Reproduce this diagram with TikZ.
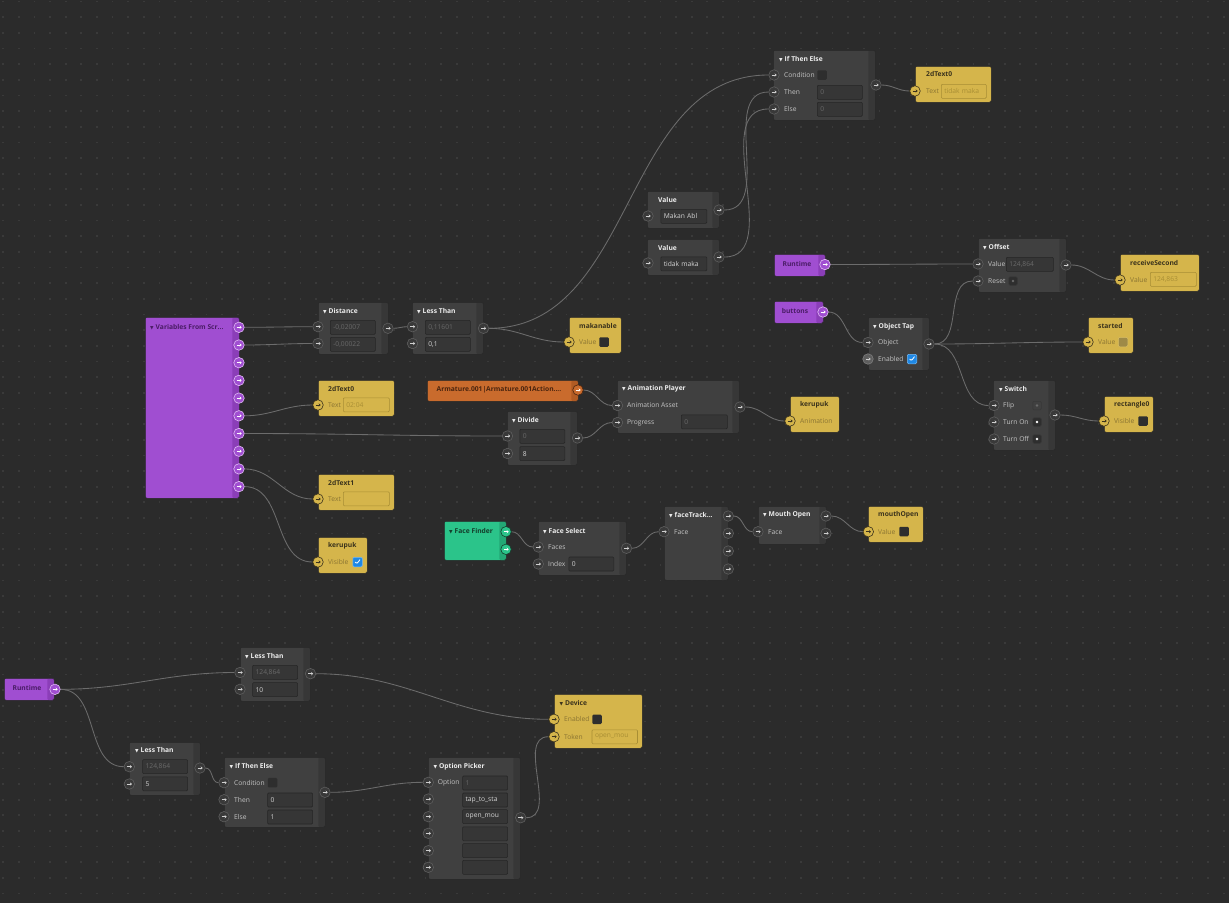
\documentclass[tikz,border=0pt]{standalone}
\usepackage{fontspec}
\setmainfont{Open Sans}
\newfontfamily\glyphfont{DejaVu Sans}
\usepackage{tikz}
\usetikzlibrary{arrows.meta}
\definecolor{canvas}{HTML}{2B2B2B}
\definecolor{gridDot}{HTML}{3A3A3A}
\definecolor{nodeGray}{HTML}{404040}
\definecolor{nodeStrip}{HTML}{373737}
\definecolor{nodeEdge}{HTML}{262626}
\definecolor{fieldFill}{HTML}{363636}
\definecolor{fieldEdge}{HTML}{262626}
\definecolor{wireGray}{HTML}{6C6C6C}
\definecolor{portFill}{HTML}{393939}
\definecolor{portEdge}{HTML}{5E5E5E}
\definecolor{portArrow}{HTML}{D0D0D0}
\definecolor{titleWhite}{HTML}{EDEDED}
\definecolor{lblGray}{HTML}{C4C4C4}
\definecolor{valLight}{HTML}{D4D4D4}
\definecolor{valDim}{HTML}{6A6A6A}
\definecolor{boxDark}{HTML}{2E2E2E}
\definecolor{tickBlue}{HTML}{1E88E5}
\definecolor{nodeYellow}{HTML}{D5B54B}
\definecolor{yellowDeep}{HTML}{A88E34}
\definecolor{yellowMuted}{HTML}{8A7432}
\definecolor{yellowInk}{HTML}{3A321C}
\definecolor{nodePurple}{HTML}{A04ED1}
\definecolor{purpleStrip}{HTML}{8B3EB8}
\definecolor{purpleEdge}{HTML}{E2BCF6}
\definecolor{purpleInk}{HTML}{4A1C66}
\definecolor{nodeOrange}{HTML}{C96B2D}
\definecolor{orangeStrip}{HTML}{B15B23}
\definecolor{orangeInk}{HTML}{4A240E}
\definecolor{nodeGreen}{HTML}{2BC48A}
\definecolor{greenStrip}{HTML}{23A875}
\definecolor{greenInk}{HTML}{143D2B}
\pgfdeclarelayer{grid}
\pgfdeclarelayer{wires}
\pgfsetlayers{grid,wires,main}
\newcommand{\lblfont}{\fontsize{6.7}{7.5}\selectfont}
\newcommand{\ttlfont}{\fontsize{6.7}{7.5}\selectfont\bfseries}
\newcommand{\tritip}{{\glyphfont\fontsize{4.6}{5}\selectfont ▼}\hspace{2pt}}
\tikzset{
  arrowcol/.store in=\arrowCol, arrowcol=portArrow,
  stripcol/.store in=\stripCol, stripcol=nodeStrip,
  dotcol/.store in=\dotCol, dotcol=white,
  gridrow/.style={draw=gridDot, line width=1.7pt, dash pattern=on 1.7pt off 13.95pt},
  wire/.style={draw=wireGray, line width=0.85pt},
  darkbox/.style={rectangle, rounded corners=2pt, anchor=north west, inner sep=0pt, fill=nodeGray, draw=nodeEdge, line width=0.5pt, stripcol=nodeStrip,
    path picture={\fill[\stripCol] ([xshift=-7pt]path picture bounding box.north east) rectangle (path picture bounding box.south east);}},
  purplebox/.style={darkbox, fill=nodePurple, stripcol=purpleStrip},
  orangebox/.style={darkbox, fill=nodeOrange, stripcol=orangeStrip},
  greenbox/.style={darkbox, fill=nodeGreen, stripcol=greenStrip},
  ybox/.style={rectangle, rounded corners=2pt, anchor=north west, inner sep=0pt, fill=nodeYellow, draw=nodeEdge, line width=0.5pt},
  title/.style={anchor=west, inner sep=0pt, font=\ttlfont, text=titleWhite},
  ytitle/.style={title, text=yellowInk},
  ptitle/.style={inner sep=0pt, font=\ttlfont, text=purpleInk},
  lbl/.style={anchor=west, inner sep=0pt, font=\lblfont, text=lblGray},
  ylbl/.style={lbl, text=yellowMuted},
  field/.style={rectangle, anchor=north west, rounded corners=1pt, fill=fieldFill, draw=fieldEdge, line width=0.6pt, minimum height=14pt, text width=39pt, inner xsep=3pt, inner ysep=0pt, align=left, font=\lblfont, text=valLight},
  dimfield/.style={field, text=valDim},
  yfield/.style={field, fill=nodeYellow, draw=yellowDeep, text=yellowDeep},
  chk/.style={rectangle, rounded corners=1.2pt, minimum size=9.5pt, inner sep=0pt, fill=boxDark},
  tick/.style={chk, fill=tickBlue, draw=tickBlue!60!white, line width=0.5pt,
    path picture={\draw[white, line width=0.8pt] ([shift={(-2.4pt,0.1pt)}]path picture bounding box.center) -- ([shift={(-0.7pt,-1.8pt)}]path picture bounding box.center) -- ([shift={(2.5pt,2.4pt)}]path picture bounding box.center);}},
  dotbox/.style={chk, minimum size=8.5pt, draw=nodeStrip, line width=0.5pt,
    path picture={\fill[\dotCol] (path picture bounding box.center) circle (1.3pt);}},
  port/.style={circle, minimum size=10.5pt, inner sep=0pt, line width=0.6pt, fill=portFill, draw=portEdge, arrowcol=portArrow,
    path picture={\draw[draw=\arrowCol, line width=0.6pt, -{Stealth[length=1.9pt,width=3.2pt]}] ([xshift=-2.4pt]path picture bounding box.center) -- ([xshift=2.6pt]path picture bounding box.center);}},
  liteport/.style={port, fill=portEdge, draw=portEdge!80!white},
  yport/.style={port, fill=nodeYellow, draw=yellowInk, arrowcol=yellowInk},
  pport/.style={port, fill=nodePurple, draw=purpleEdge, arrowcol=white},
  oport/.style={port, fill=nodeOrange, draw=orangeInk, arrowcol=white},
  gport/.style={port, fill=nodeGreen, draw=greenInk, arrowcol=white}
}
\begin{document}
\begin{tikzpicture}[x=1pt,y=-1pt]
  \useasboundingbox (0,0) rectangle (1229,903);
  \begin{pgfonlayer}{grid}
    \fill[canvas] (0,0) rectangle (1229,903);
    \foreach \row in {0,...,57}
      \draw[gridrow] (2.2,{1.5+15.65*\row}) -- (1229,{1.5+15.65*\row});
  \end{pgfonlayer}

  \node[darkbox, minimum width=102, minimum height=70] (iteTop) at (773,50) {};
  \node[title] (iteTop-h) at (779,59) {\tritip If Then Else};
  \node[lbl] (iteTop-lc) at (784,75) {Condition};
  \node[lbl] (iteTop-lt) at (784,92) {Then};
  \node[lbl] (iteTop-le) at (784,109) {Else};
  \node[chk] (iteTop-cb) at (822,75) {};
  \node[dimfield] (iteTop-ft) at (817,85) {0};
  \node[dimfield] (iteTop-fe) at (817,102) {0};
  \node[port] (iteTop-c) at (774,75) {};
  \node[port] (iteTop-t) at (774,92) {};
  \node[port] (iteTop-e) at (774,109) {};
  \node[port] (iteTop-o) at (876,85) {};

  \node[ybox, minimum width=76, minimum height=36] (textTop) at (915,66) {};
  \node[ytitle] (textTop-h) at (926,74) {2dText0};
  \node[ylbl] (textTop-l) at (926,91) {Text};
  \node[yfield] (textTop-f) at (941,84) {tidak maka};
  \node[yport] (textTop-t) at (915,91) {};

  \node[darkbox, minimum width=72, minimum height=37] (valMakan) at (647,191) {};
  \node[title] (valMakan-h) at (658,200) {Value};
  \node[field, text width=40pt] (valMakan-f) at (660.5,209) {Makan Abl};
  \node[port] (valMakan-i) at (648,216) {};
  \node[port] (valMakan-o) at (719,210) {};

  \node[darkbox, minimum width=72, minimum height=36] (valTidak) at (647,239) {};
  \node[title] (valTidak-h) at (658,247.5) {Value};
  \node[field, text width=40pt] (valTidak-f) at (660.5,256.5) {tidak maka};
  \node[port] (valTidak-i) at (648,263) {};
  \node[port] (valTidak-o) at (719,257) {};

  \node[purplebox, minimum width=51, minimum height=22] (runTop) at (774,254) {};
  \node[ptitle] (runTop-h) at (797,264) {Runtime};
  \node[pport] (runTop-o) at (825,264.5) {};

  \node[darkbox, minimum width=88, minimum height=54] (offset) at (978,238) {};
  \node[title] (offset-h) at (983,247) {\tritip Offset};
  \node[lbl] (offset-lv) at (988,264) {Value};
  \node[lbl] (offset-lr) at (988,281) {Reset};
  \node[dimfield, text width=41pt] (offset-f) at (1006,257) {124,864};
  \node[dotbox, dotcol=valDim] (offset-cb) at (1013,281) {};
  \node[port] (offset-v) at (978,264) {};
  \node[port] (offset-r) at (978,281) {};
  \node[port] (offset-o) at (1066,265) {};

  \node[ybox, minimum width=79, minimum height=37] (recvSec) at (1120,254) {};
  \node[ytitle] (recvSec-h) at (1130,263) {receiveSecond};
  \node[ylbl] (recvSec-l) at (1130,280) {Value};
  \node[yfield, text width=40pt] (recvSec-f) at (1150,272) {124,863};
  \node[yport] (recvSec-v) at (1120,280) {};

  \node[purplebox, minimum width=49, minimum height=22] (buttons) at (774,301) {};
  \node[ptitle] (buttons-h) at (795,311) {buttons};
  \node[pport] (buttons-o) at (823,312) {};

  \node[darkbox, minimum width=61, minimum height=53] (objTap) at (868,317) {};
  \node[title] (objTap-h) at (873,327) {\tritip Object Tap};
  \node[lbl] (objTap-lo) at (878,343) {Object};
  \node[lbl] (objTap-le) at (878,359) {Enabled};
  \node[tick] (objTap-cb) at (912,359) {};
  \node[port] (objTap-obj) at (868,342.5) {};
  \node[liteport] (objTap-en) at (868,359) {};
  \node[port] (objTap-o) at (929,344) {};

  \node[ybox, minimum width=45, minimum height=36] (started) at (1088,317) {};
  \node[ytitle] (started-h) at (1098,326) {started};
  \node[ylbl] (started-l) at (1098,342) {Value};
  \node[chk, fill=yellowDeep!75!gray, draw=nodeYellow!85!white, line width=0.5pt] (started-cb) at (1123,342) {};
  \node[yport] (started-v) at (1088,342) {};

  \node[darkbox, minimum width=62, minimum height=70] (switch) at (993,380) {};
  \node[title] (switch-h) at (999,389) {\tritip Switch};
  \node[lbl] (switch-lf) at (1003,405.5) {Flip};
  \node[lbl] (switch-ln) at (1003,422) {Turn On};
  \node[lbl] (switch-lo) at (1003,439) {Turn Off};
  \node[dotbox, fill=nodeGray, dotcol=valDim] (switch-cf) at (1037,405.5) {};
  \node[dotbox] (switch-cn) at (1037,422) {};
  \node[dotbox] (switch-co) at (1037,439) {};
  \node[port] (switch-f) at (994,405.5) {};
  \node[port] (switch-n) at (994,422) {};
  \node[port] (switch-off) at (994,439) {};
  \node[port] (switch-o) at (1055,415) {};

  \node[ybox, minimum width=49, minimum height=36] (rect) at (1104,396) {};
  \node[ytitle] (rect-h) at (1114,405) {rectangle0};
  \node[ylbl] (rect-l) at (1114,421) {Visible};
  \node[chk] (rect-cb) at (1143,421) {};
  \node[yport] (rect-v) at (1104,421) {};

  \node[ybox, minimum width=49, minimum height=36] (kerAnim) at (790,396) {};
  \node[ytitle] (kerAnim-h) at (800,405) {kerupuk};
  \node[ylbl] (kerAnim-l) at (800,421) {Animation};
  \node[yport] (kerAnim-a) at (790,421) {};

  \node[purplebox, minimum width=94, minimum height=181] (vars) at (145,317) {};
  \node[title, text=purpleInk] (vars-h) at (150,327) {\tritip Variables From Scr...};
  \foreach \k in {1,...,10}
    \node[pport] (vars-o\k) at (239,{327.3+17.7*(\k-1)}) {};

  \node[darkbox, minimum width=70, minimum height=52] (dist) at (318,302) {};
  \node[title] (dist-h) at (323,311) {\tritip Distance};
  \node[dimfield] (dist-fa) at (330,320) {-0,02007};
  \node[dimfield] (dist-fb) at (330,337) {-0,00022};
  \node[port] (dist-a) at (318,326.7) {};
  \node[port] (dist-b) at (318,343.5) {};
  \node[port] (dist-o) at (388,328.3) {};

  \node[darkbox, minimum width=71, minimum height=52] (lessTop) at (412,302) {};
  \node[title] (lessTop-h) at (417,311) {\tritip Less Than};
  \node[dimfield] (lessTop-fa) at (425,320) {0,11601};
  \node[field] (lessTop-fb) at (425,337) {0,1};
  \node[port] (lessTop-a) at (412.5,326.7) {};
  \node[port] (lessTop-b) at (412.5,343.5) {};
  \node[port] (lessTop-o) at (483.5,328.3) {};

  \node[ybox, minimum width=52, minimum height=36] (makan) at (569,317) {};
  \node[ytitle] (makan-h) at (579,326) {makanable};
  \node[ylbl] (makan-l) at (579,342) {Value};
  \node[chk] (makan-cb) at (604,342) {};
  \node[yport] (makan-v) at (569,342) {};

  \node[ybox, minimum width=76, minimum height=36] (textMid) at (318,380) {};
  \node[ytitle] (textMid-h) at (328,389) {2dText0};
  \node[ylbl] (textMid-l) at (328,405) {Text};
  \node[yfield, text width=40pt] (textMid-f) at (343,397.5) {02:04};
  \node[yport] (textMid-t) at (318,405) {};

  \node[ybox, minimum width=76, minimum height=36] (textOne) at (318,474) {};
  \node[ytitle] (textOne-h) at (328,483) {2dText1};
  \node[ylbl] (textOne-l) at (328,499) {Text};
  \node[yfield, text width=40pt] (textOne-f) at (343,491.5) {};
  \node[yport] (textOne-t) at (318,499) {};

  \node[ybox, minimum width=49, minimum height=36] (kerVis) at (318,537) {};
  \node[ytitle] (kerVis-h) at (328,546) {kerupuk};
  \node[ylbl] (kerVis-l) at (328,562) {Visible};
  \node[tick] (kerVis-cb) at (357.5,562) {};
  \node[yport] (kerVis-v) at (318,562) {};

  \node[orangebox, minimum width=151, minimum height=21] (armature) at (427,380) {};
  \node[inner sep=0pt, font=\ttlfont, text=orangeInk] (armature-h) at (499,389.5) {Armature.001|Armature.001Action....};
  \node[oport] (armature-o) at (578,390) {};

  \node[darkbox, minimum width=122, minimum height=53] (animPlay) at (617,380) {};
  \node[title] (animPlay-h) at (622,389) {\tritip Animation Player};
  \node[lbl] (animPlay-la) at (627,405.5) {Animation Asset};
  \node[lbl] (animPlay-lp) at (627,422.5) {Progress};
  \node[dimfield, text width=40pt] (animPlay-f) at (681,414.5) {0};
  \node[port] (animPlay-a) at (617.5,405.5) {};
  \node[port] (animPlay-p) at (617.5,422.5) {};
  \node[port] (animPlay-o) at (740,407) {};

  \node[darkbox, minimum width=70, minimum height=54] (divide) at (507,411) {};
  \node[title] (divide-h) at (512,420) {\tritip Divide};
  \node[dimfield] (divide-fa) at (519.5,429) {0};
  \node[field] (divide-fb) at (519.5,446.3) {8};
  \node[port] (divide-a) at (507.5,436) {};
  \node[port] (divide-b) at (507.5,453.5) {};
  \node[port] (divide-o) at (577.5,438) {};

  \node[greenbox, minimum width=62, minimum height=39] (faceFind) at (444,521) {};
  \node[title, text=greenInk] (faceFind-h) at (449,531) {\tritip Face Finder};
  \node[gport] (faceFind-o1) at (506,531.7) {};
  \node[gport] (faceFind-o2) at (506,549.3) {};

  \node[darkbox, minimum width=88, minimum height=54] (faceSel) at (538,521) {};
  \node[title] (faceSel-h) at (543,531) {\tritip Face Select};
  \node[lbl] (faceSel-lf) at (548,547) {Faces};
  \node[lbl] (faceSel-li) at (548,564) {Index};
  \node[field] (faceSel-f) at (568.5,556.7) {0};
  \node[port] (faceSel-f1) at (538.3,547) {};
  \node[port] (faceSel-i) at (538.3,564) {};
  \node[port] (faceSel-o) at (626.5,548.3) {};

  \node[darkbox, minimum width=64, minimum height=74] (faceTrk) at (664,506) {};
  \node[title] (faceTrk-h) at (669,515) {\tritip faceTrack...};
  \node[lbl] (faceTrk-l) at (674,531.7) {Face};
  \node[port] (faceTrk-f) at (664,531.7) {};
  \foreach \k/\py in {1/516,2/533.3,3/551,4/569}
    \node[port] (faceTrk-o\k) at (728.3,\py) {};

  \node[darkbox, minimum width=68, minimum height=38] (mouth) at (758,506) {};
  \node[title] (mouth-h) at (763,515) {\tritip Mouth Open};
  \node[lbl] (mouth-l) at (768,531.7) {Face};
  \node[port] (mouth-f) at (758,531.7) {};
  \node[port] (mouth-o1) at (826,516) {};
  \node[port] (mouth-o2) at (826,533.3) {};

  \node[ybox, minimum width=55, minimum height=36] (mouthVal) at (868,506) {};
  \node[ytitle] (mouthVal-h) at (878,515) {mouthOpen};
  \node[ylbl] (mouthVal-l) at (878,531.7) {Value};
  \node[chk] (mouthVal-cb) at (904,531.5) {};
  \node[yport] (mouthVal-v) at (868.3,531.7) {};

  \node[purplebox, minimum width=50, minimum height=22] (runLow) at (4,678) {};
  \node[ptitle] (runLow-h) at (27,688) {Runtime};
  \node[pport] (runLow-o) at (55,689.3) {};

  \node[darkbox, minimum width=70, minimum height=54] (lessTen) at (240,647) {};
  \node[title] (lessTen-h) at (245,656.5) {\tritip Less Than};
  \node[dimfield] (lessTen-fa) at (252.3,665) {124,864};
  \node[field] (lessTen-fb) at (252.3,682.3) {10};
  \node[port] (lessTen-a) at (240,672.5) {};
  \node[port] (lessTen-b) at (240,689.3) {};
  \node[port] (lessTen-o) at (310.5,673.7) {};

  \node[darkbox, minimum width=71, minimum height=53] (lessFive) at (129,742) {};
  \node[title] (lessFive-h) at (135,750.5) {\tritip Less Than};
  \node[dimfield] (lessFive-fa) at (142.3,759.3) {124,864};
  \node[field] (lessFive-fb) at (142.3,776.5) {5};
  \node[port] (lessFive-a) at (129.3,766.7) {};
  \node[port] (lessFive-b) at (129.3,784) {};
  \node[port] (lessFive-o) at (200,768) {};

  \node[darkbox, minimum width=101, minimum height=70] (iteLow) at (224,757) {};
  \node[title] (iteLow-h) at (229.3,766.7) {\tritip If Then Else};
  \node[lbl] (iteLow-lc) at (234,782.7) {Condition};
  \node[lbl] (iteLow-lt) at (234,800) {Then};
  \node[lbl] (iteLow-le) at (234,817) {Else};
  \node[chk] (iteLow-cb) at (272.5,782.7) {};
  \node[field] (iteLow-ft) at (267.3,792.7) {0};
  \node[field] (iteLow-fe) at (267.3,809.7) {1};
  \node[port] (iteLow-c) at (224,782.7) {};
  \node[port] (iteLow-t) at (224,799.7) {};
  \node[port] (iteLow-e) at (224,816.7) {};
  \node[port] (iteLow-o) at (325,792.3) {};

  \node[darkbox, minimum width=92, minimum height=122] (picker) at (428,757) {};
  \node[title] (picker-h) at (433.3,766.3) {\tritip Option Picker};
  \node[lbl] (picker-l) at (437.7,782.7) {Option};
  \node[dimfield] (picker-f1) at (462.3,775.7) {1};
  \foreach \k/\fy/\txt in {2/792.7/tap\_to\_sta,3/809.3/open\_mou,4/826.5/,5/843.3/,6/860/}
    \node[field] (picker-f\k) at (462.3,\fy) {\txt};
  \foreach \k/\py in {1/782.3,2/799,3/816.7,4/833.3,5/850.7,6/867.3}
    \node[port] (picker-i\k) at (428.3,\py) {};
  \node[port] (picker-o) at (520.7,817.7) {};

  \node[ybox, minimum width=88, minimum height=54] (device) at (554,694) {};
  \node[ytitle] (device-h) at (559.3,703.3) {\tritip Device};
  \node[ylbl] (device-le) at (564,719.3) {Enabled};
  \node[ylbl] (device-lt) at (564,736.7) {Token};
  \node[chk] (device-cb) at (597,719.3) {};
  \node[yfield, text width=39.5pt] (device-f) at (591.7,729.5) {open\_mou};
  \node[yport] (device-e) at (554,719.3) {};
  \node[yport] (device-t) at (554,736.7) {};

  \begin{pgfonlayer}{wires}
    \draw[wire] (vars-o1) to[out=0,in=180] (dist-a);
    \draw[wire] (vars-o2) to[out=0,in=180] (dist-b);
    \draw[wire] (dist-o) to[out=0,in=180] (lessTop-a);
    \draw[wire] (lessTop-o) to[out=0,in=180] (iteTop-c);
    \draw[wire] (lessTop-o) to[out=0,in=180] (makan-v);
    \draw[wire] (valMakan-o) to[out=0,in=180] (iteTop-t);
    \draw[wire] (valTidak-o) to[out=0,in=180] (iteTop-e);
    \draw[wire] (iteTop-o) to[out=0,in=180] (textTop-t);
    \draw[wire] (vars-o6) to[out=0,in=180] (textMid-t);
    \draw[wire] (vars-o7) to[out=0,in=180] (divide-a);
    \draw[wire] (vars-o9) to[out=0,in=180] (textOne-t);
    \draw[wire] (vars-o10) to[out=0,in=180] (kerVis-v);
    \draw[wire] (armature-o) to[out=0,in=180] (animPlay-a);
    \draw[wire] (divide-o) to[out=0,in=180] (animPlay-p);
    \draw[wire] (animPlay-o) to[out=0,in=180] (kerAnim-a);
    \draw[wire] (runTop-o) to[out=0,in=180] (offset-v);
    \draw[wire] (offset-o) to[out=0,in=180] (recvSec-v);
    \draw[wire] (buttons-o) to[out=0,in=180] (objTap-obj);
    \draw[wire] (objTap-o) to[out=0,in=180] (offset-r);
    \draw[wire] (objTap-o) to[out=0,in=180] (started-v);
    \draw[wire] (objTap-o) to[out=0,in=180] (switch-f);
    \draw[wire] (switch-o) to[out=0,in=180] (rect-v);
    \draw[wire] (faceFind-o1) to[out=0,in=180] (faceSel-f1);
    \draw[wire] (faceSel-o) to[out=0,in=180] (faceTrk-f);
    \draw[wire] (faceTrk-o1) to[out=0,in=180] (mouth-f);
    \draw[wire] (mouth-o1) to[out=0,in=180] (mouthVal-v);
    \draw[wire] (runLow-o) to[out=0,in=180] (lessTen-a);
    \draw[wire] (runLow-o) to[out=0,in=180] (lessFive-a);
    \draw[wire] (lessTen-o) to[out=0,in=180] (device-e);
    \draw[wire] (lessFive-o) to[out=0,in=180] (iteLow-c);
    \draw[wire] (iteLow-o) to[out=0,in=180] (picker-i1);
    \draw[wire] (picker-o) to[out=0,in=180] (device-t);
  \end{pgfonlayer}
\end{tikzpicture}
\end{document}
